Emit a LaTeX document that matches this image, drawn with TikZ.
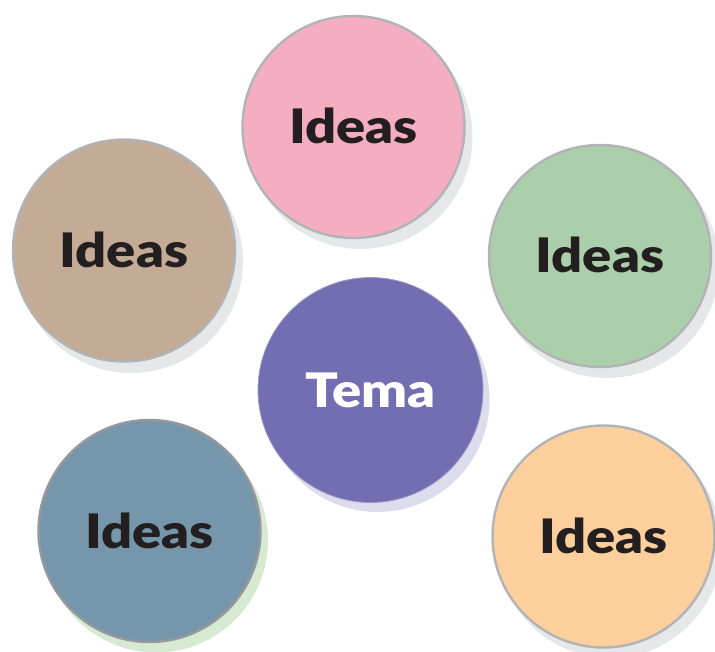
\documentclass[tikz,border=0pt]{standalone}
\usepackage{fontspec}
\newfontfamily\ideafont{Lato Black}[FakeStretch=1.14]
\definecolor{cpink}{HTML}{F5AEC1}
\definecolor{cbrown}{HTML}{C4AB95}
\definecolor{cgreen}{HTML}{AACFAA}
\definecolor{cpurple}{HTML}{736EB1}
\definecolor{cblue}{HTML}{7696AC}
\definecolor{corange}{HTML}{FDCF9C}
\definecolor{cborder}{HTML}{B1B3B6}
\definecolor{cshadow}{HTML}{E6E7E8}
\definecolor{cgshadow}{HTML}{D6E9D1}
\definecolor{cpshadow}{HTML}{DDDCEC}
\definecolor{ctext}{HTML}{231F20}
\begin{document}
\begin{tikzpicture}[x=1pt,y=-1pt,
  bubble/.style={circle, minimum size=222pt, inner sep=0pt, line width=2.4pt, draw=cborder,
    font=\ideafont\fontsize{47.5}{50}\selectfont, text=ctext, text height=34pt, text depth=0pt},
  shade/.style={circle, minimum size=224pt, inner sep=0pt, fill=cshadow}]
\useasboundingbox (0,0) rectangle (715,652);
% shadows
\node[shade] (s1) at (360.5,137) {};
\node[shade] (s2) at (131,261) {};
\node[shade] (s3) at (607,266) {};
\node[shade, fill=cpshadow] (s4) at (377.5,400) {};
\node[shade, fill=cgshadow] (s5) at (156,540.5) {};
\node[shade] (s6) at (610,546) {};
% circles
\node[bubble, fill=cpink] (pink) at (353.5,127) {Ideas};
\node[bubble, fill=cbrown] (brown) at (124,250.5) {Ideas};
\node[bubble, fill=cgreen] (green) at (600,256) {Ideas};
\node[bubble, fill=cpurple, draw=cpurple!70!white, line width=0.8pt, minimum size=225pt, text=white] (tema) at (370.5,390) {Tema};
\node[bubble, fill=cblue, draw=cborder!85!black] (blue) at (149.5,531) {Ideas};
\node[bubble, fill=corange] (orange) at (603.5,536.5) {Ideas};
\end{tikzpicture}
\end{document}
